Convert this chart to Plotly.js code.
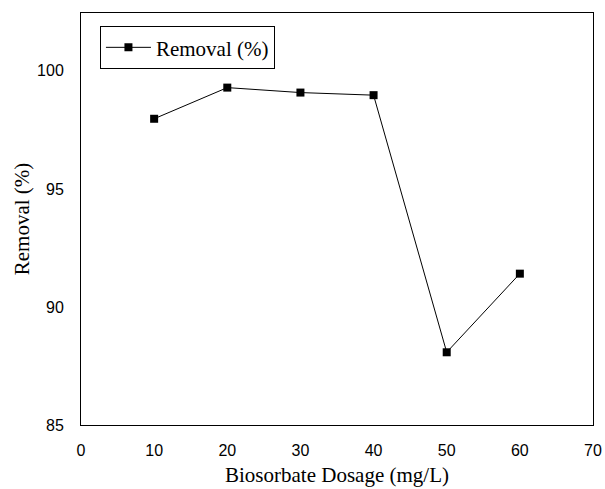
<!DOCTYPE html>
<html>
<head>
<meta charset="utf-8">
<script src="https://cdn.plot.ly/plotly-3.0.1.min.js"></script>
<style>html,body{margin:0;padding:0;background:#fff;}#chart{width:605px;height:489px;}</style>
</head>
<body>
<div id="chart"></div>
<script>
const dosage = [10, 20, 30, 40, 50, 60];
const removal = [97.97, 99.29, 99.08, 98.97, 88.08, 91.41];
const seriesName = "Removal (%)";
const xTicks = [0, 10, 20, 30, 40, 50, 60, 70];
const yTicks = [85, 90, 95, 100];

const trace = {
  x: dosage, y: removal, name: seriesName,
  type: "scatter", mode: "lines+markers",
  line: {color: "#000", width: 1},
  marker: {symbol: "square", size: 8, color: "#000"}
};

const serif = "Liberation Serif, Times New Roman, serif";
const sans = "Liberation Sans, Arial, sans-serif";

const layout = {
  width: 605, height: 489,
  margin: {l: 81, r: 12, t: 13, b: 64},
  paper_bgcolor: "#fff", plot_bgcolor: "#fff",
  showlegend: true,
  legend: {
    x: 0.037, y: 0.968, xanchor: "left", yanchor: "top",
    bordercolor: "#000", borderwidth: 1, bgcolor: "#fff",
    font: {family: serif, size: 21, color: "#000"},
    itemwidth: 45, tracegroupgap: 0
  },
  xaxis: {
    range: [0, 70], tickvals: xTicks, ticktext: xTicks.map(String),
    showgrid: false, zeroline: false, showline: true, mirror: true,
    linecolor: "#000", linewidth: 1, ticks: "",
    ticklabelstandoff: 11,
    tickfont: {family: sans, size: 16, color: "#000"},
    title: {text: "Biosorbate Dosage (mg/L)", standoff: 9,
      font: {family: serif, size: 21, color: "#000"}}
  },
  yaxis: {
    range: [85, 102.45], tickvals: yTicks, ticktext: yTicks.map(String),
    showgrid: false, zeroline: false, showline: true, mirror: true,
    linecolor: "#000", linewidth: 1, ticks: "",
    ticklabelstandoff: 13,
    tickfont: {family: sans, size: 16, color: "#000"},
    title: {text: "Removal (%)", standoff: 1,
      font: {family: serif, size: 21, color: "#000"}}
  }
};

Plotly.newPlot("chart", [trace], layout, {displayModeBar: false, staticPlot: true});
</script>
</body>
</html>
